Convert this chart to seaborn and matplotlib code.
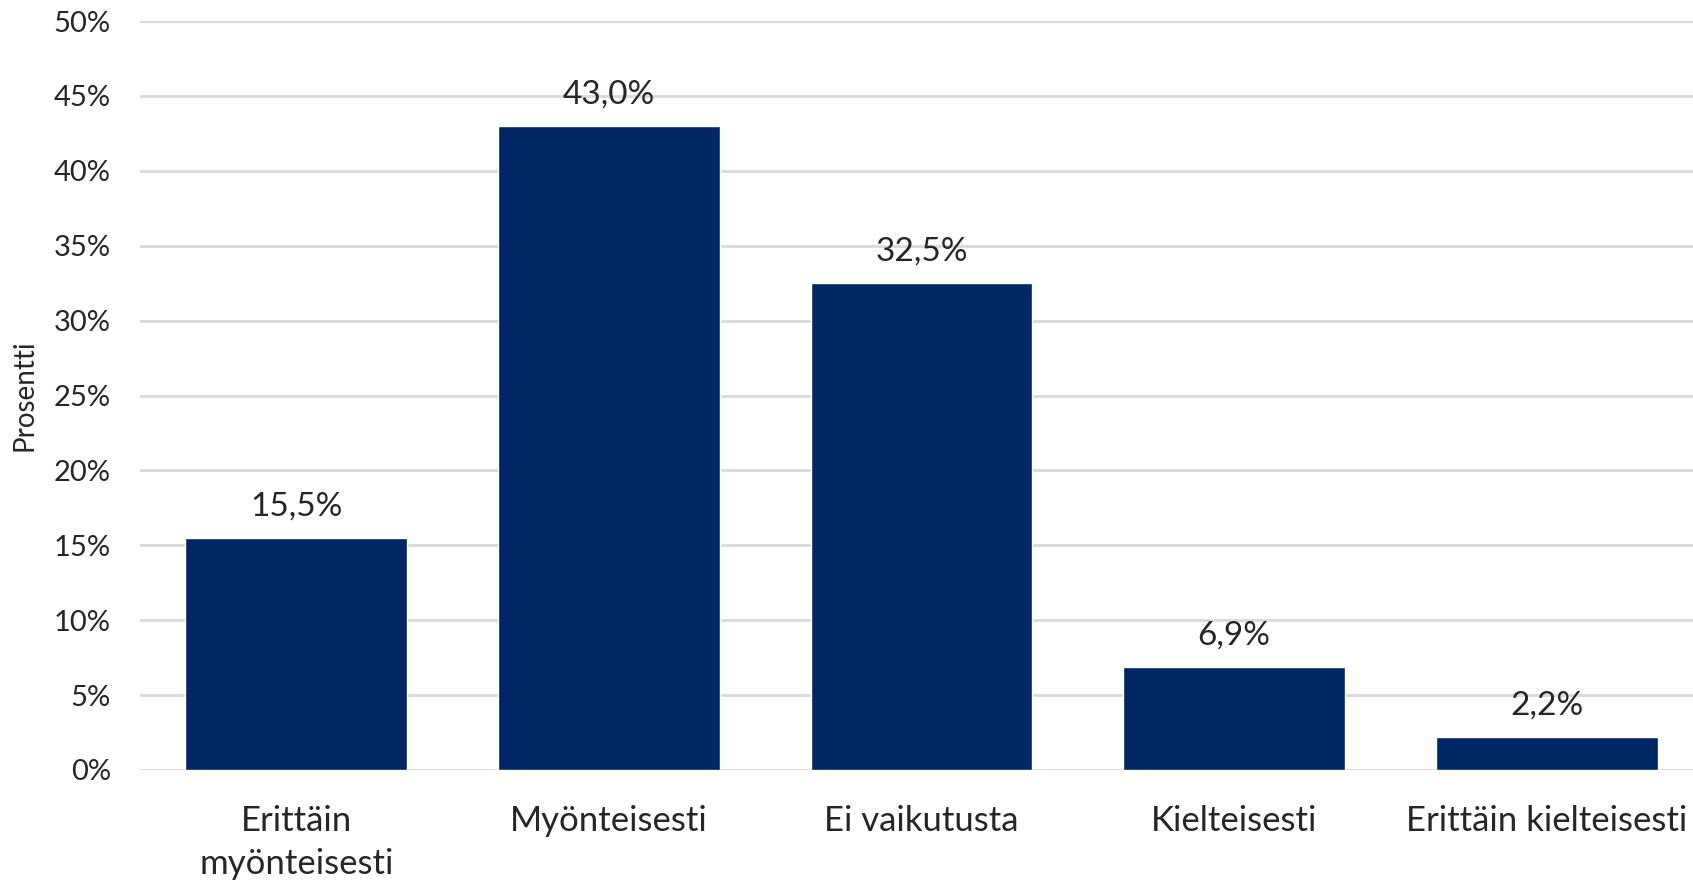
import numpy as np
import pandas as pd
import matplotlib
matplotlib.use("Agg")
import matplotlib.pyplot as plt
import seaborn as sns
from matplotlib.ticker import FuncFormatter

# data
categories = ["Erittäin\nmyönteisesti", "Myönteisesti", "Ei vaikutusta",
              "Kielteisesti", "Erittäin kielteisesti"]
values = [15.5, 43.0, 32.5, 6.9, 2.2]

df = pd.DataFrame({"kategoria": categories, "prosentti": values})

sns.set_style("white")
plt.rcParams['font.family'] = ['Lato', 'DejaVu Sans']

fig = plt.figure(figsize=(16.93, 8.82), dpi=100)
ax = fig.add_axes([140 / 1693, (882 - 770) / 882, (1703 - 140) / 1693, (770 - 21) / 882])

sns.barplot(data=df, x="kategoria", y="prosentti", color="#002663",
            saturation=1, width=0.71, ax=ax)

ax.set_ylim(0, 50)
ax.set_yticks(np.arange(0, 51, 5))
ax.yaxis.set_major_formatter(FuncFormatter(lambda v, p: f"{v:.0f}%"))
ax.yaxis.grid(True, color="#d9d9d9", linewidth=2)
ax.set_axisbelow(True)
for s in ax.spines.values():
    s.set_visible(False)

ax.tick_params(axis="y", labelsize=21, length=0, pad=21)
ax.tick_params(axis="x", labelsize=25, length=0, pad=25)
for lab in ax.get_xticklabels():
    lab.set_linespacing(1.45)
ax.set_xlabel("")
ax.set_ylabel("Prosentti", fontsize=20, labelpad=12)

for i, v in enumerate(values):
    ax.text(i, v + 1.1, f"{v:.1f}%".replace(".", ","), ha="center", va="bottom",
            fontsize=24)

fig.savefig("out.png", dpi=100)
